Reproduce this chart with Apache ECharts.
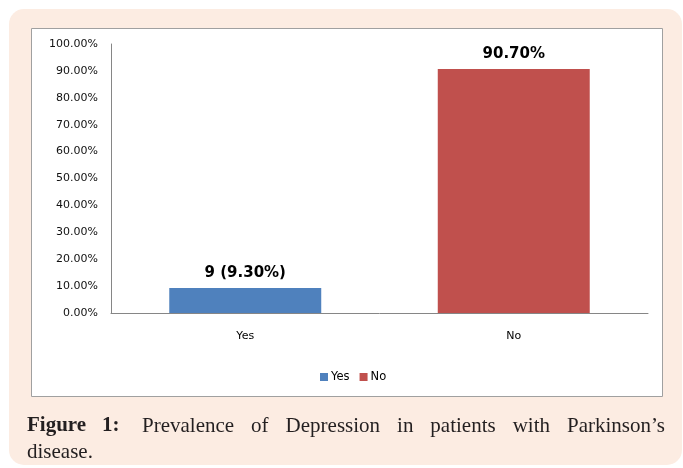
<!DOCTYPE html>
<html>
<head>
<meta charset="utf-8">
<script src="https://cdn.jsdelivr.net/npm/echarts@6/dist/echarts.min.js"></script>
<style>
html,body{margin:0;padding:0;background:#fff;}
#chart{width:683px;height:468px;}
</style>
</head>
<body>
<div id="chart"></div>
<script>
var categories = ['Yes', 'No'];
var yesValues = [9.3, null];
var noValues = [null, 90.7];
var dataLabels = ['9 (9.30%)', '90.70%'];
var seriesNames = ['Yes', 'No'];
var captionBold = ['Figure', '1:'];
var captionWords = ['Prevalence', 'of', 'Depression', 'in', 'patients', 'with', 'Parkinson\u2019s'];
var captionLine2 = 'disease.';

var chart = echarts.init(document.getElementById('chart'), null, {renderer: 'canvas'});

var captionFont = '21px "Liberation Serif"';
var captionBoldFont = 'bold 21px "Liberation Serif"';
var measureCtx = document.createElement('canvas').getContext('2d');
function textW(t, f) { measureCtx.font = f; return measureCtx.measureText(t).width; }

var boldX = [27, 102];
var lineStart = 142, lineEnd = 665;
var widths = captionWords.map(function (w) { return textW(w, captionFont); });
var totalW = widths.reduce(function (a, b) { return a + b; }, 0);
var gap = (lineEnd - lineStart - totalW) / (captionWords.length - 1);

var graphics = [
  {type: 'rect', z: -20, shape: {x: 9, y: 9, width: 673, height: 456, r: 15}, style: {fill: '#fcece2'}},
  {type: 'rect', z: -10, shape: {x: 31.5, y: 28.5, width: 631, height: 368}, style: {fill: '#ffffff', stroke: '#a0a0a0', lineWidth: 1}}
];
captionBold.forEach(function (w, i) {
  graphics.push({type: 'text', z: 10, x: boldX[i], y: 426, style: {text: w, fill: '#231f20', font: captionBoldFont, textVerticalAlign: 'middle'}});
});
var cx = lineStart;
captionWords.forEach(function (w, i) {
  graphics.push({type: 'text', z: 10, x: cx, y: 426, style: {text: w, fill: '#231f20', font: captionFont, textVerticalAlign: 'middle'}});
  cx += widths[i] + gap;
});
graphics.push({type: 'text', z: 10, x: 27, y: 452, style: {text: captionLine2, fill: '#231f20', font: captionFont, textVerticalAlign: 'middle'}});

function labelFor() {
  return {
    show: true, position: 'top', distance: 7,
    fontFamily: 'DejaVu Sans', fontWeight: 'bold', fontSize: 15, color: '#000',
    formatter: function (p) { return dataLabels[p.dataIndex]; }
  };
}

chart.setOption({
  animation: false,
  backgroundColor: '#ffffff',
  graphic: graphics,
  legend: {
    data: seriesNames,
    left: 315, top: 366,
    icon: 'rect', itemWidth: 8, itemHeight: 8, itemGap: 10,
    textStyle: {fontFamily: 'DejaVu Sans', fontSize: 11.5, color: '#000', padding: [0, 0, 0, -2]}
  },
  grid: {left: 111, right: 35, top: 44, bottom: 155, containLabel: false},
  xAxis: {
    type: 'category', data: categories,
    axisLine: {lineStyle: {color: '#868686', width: 1}},
    axisTick: {show: false},
    axisLabel: {fontFamily: 'DejaVu Sans', fontSize: 11, color: '#000', margin: 18}
  },
  yAxis: {
    type: 'value', min: 0, max: 100, interval: 10,
    axisLine: {show: true, lineStyle: {color: '#868686', width: 1}},
    axisTick: {show: false},
    splitLine: {show: false},
    axisLabel: {fontFamily: 'DejaVu Sans', fontSize: 11, color: '#111', margin: 13,
      formatter: function (v) { return v.toFixed(2) + '%'; }}
  },
  series: [
    {name: seriesNames[0], type: 'bar', stack: 's', data: yesValues, barWidth: '56.6%',
      itemStyle: {color: '#4f81bd'}, label: labelFor()},
    {name: seriesNames[1], type: 'bar', stack: 's', data: noValues, barWidth: '56.6%',
      itemStyle: {color: '#c0504d'}, label: labelFor()}
  ]
});
</script>
</body>
</html>
